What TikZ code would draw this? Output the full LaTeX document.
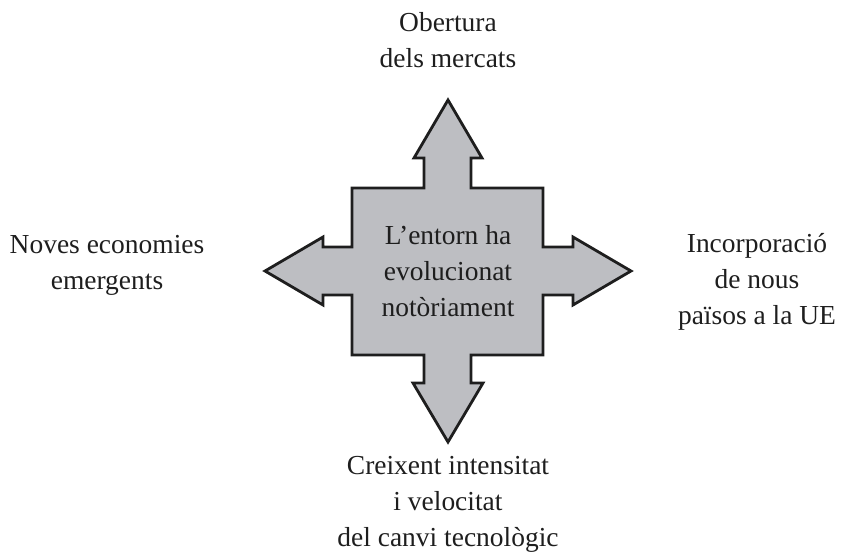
\documentclass[tikz,border=0pt]{standalone}
\usepackage{fontspec}
\setmainfont{Liberation Serif}
\definecolor{shapegray}{RGB}{189,190,194}
\definecolor{inkblack}{RGB}{30,30,30}
\tikzset{
  lbl/.style={align=center, inner sep=0pt, text=inkblack, font=\fontsize{20.6}{27}\selectfont},
  crossarrow/.style={draw=inkblack, fill=shapegray, line width=2.1pt, line join=miter}
}
\begin{document}
\begin{tikzpicture}[x=0.75pt,y=-0.75pt]
\useasboundingbox (0,0) rectangle (849,557);
\draw[crossarrow]
  (448,100) -- (482,158) -- (471,158) -- (471,188) -- (543,188) -- (543,247)
  -- (573,247) -- (573,237) -- (631,271) -- (573,305) -- (573,295) -- (543,295)
  -- (543,355) -- (471,355) -- (471,383) -- (483,383) -- (448,442) -- (413,383)
  -- (424,383) -- (424,355) -- (352,355) -- (352,295) -- (323,295) -- (323,305)
  -- (265,271) -- (323,237) -- (323,247) -- (352,247) -- (352,188) -- (424,188)
  -- (424,158) -- (414,158) -- cycle;
\node[lbl] (center) at (448,271) {L’entorn ha\\evolucionat\\notòriament};
\node[lbl] (top) at (448,40) {Obertura\\dels mercats};
\node[lbl] (left) at (107,265) {Noves economies\\emergents};
\node[lbl] (right) at (757,282) {Incorporació\\de nous\\països a la UE};
\node[lbl] (bottom) at (448,504) {Creixent intensitat\\i velocitat\\del canvi tecnològic};
\end{tikzpicture}
\end{document}
